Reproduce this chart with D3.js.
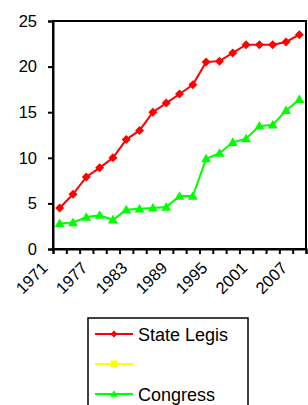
<!DOCTYPE html>
<html>
<head>
<meta charset="utf-8">
<script src="https://cdn.jsdelivr.net/npm/d3@7"></script>
<style>
body{margin:0;background:#fff;}
svg text{font-family:"Liberation Sans",Arial,sans-serif;fill:#000;}
</style>
</head>
<body>
<div id="chart"></div>
<script>
// years on the category axis, one every two years
var years = [1971,1973,1975,1977,1979,1981,1983,1985,1987,1989,1991,1993,1995,1997,1999,2001,2003,2005,2007];
var stateLegis = [4.5,6.0,7.9,8.9,10.0,12.0,13.0,15.0,16.0,17.0,18.0,20.5,20.6,21.5,22.4,22.4,22.4,22.7,23.5];
var blankSeries = [];
var congress = [2.8,2.9,3.5,3.7,3.2,4.3,4.4,4.5,4.6,5.8,5.8,9.9,10.5,11.7,12.1,13.5,13.6,15.2,16.4];
var yTicks = [0,5,10,15,20,25];
var labelYears = [1971,1977,1983,1989,1995,2001,2007];

var series = [
    {name:'State Legis', values:stateLegis, color:'#ff0000', marker:'diamond'},
    {name:'', values:blankSeries, color:'#ffff00', marker:'square'},
    {name:'Congress', values:congress, color:'#00ff00', marker:'triangle'}
];

const width = 308, height = 405;
const plotL = 53, plotR = 306, plotT = 21, plotB = 249;

var svg = d3.select('#chart')
    .append('svg')
    .attr('width',width)
    .attr('height',height);

var x = d3.scaleBand().domain(years).range([plotL,plotR]).padding(0);
var y = d3.scaleLinear().domain([0,25]).range([plotB,plotT]);

// plot border
svg.append('rect')
    .attr('x',plotL).attr('y',plotT)
    .attr('width',plotR-plotL).attr('height',plotB-plotT)
    .attr('fill','none').attr('stroke','#000').attr('stroke-width',2);

// y axis
var yAxis = svg.append('g')
    .attr('transform','translate('+plotL+',0)')
    .call(d3.axisLeft(y).tickValues(yTicks).tickSize(5).tickPadding(11));
yAxis.select('.domain').attr('stroke-width',2);
yAxis.selectAll('.tick line').attr('stroke-width',2);
yAxis.selectAll('text').style('font-size','16.5px');

// x ticks sit on the category borders
var xb = d3.scaleLinear().domain([0,years.length]).range([plotL,plotR]);
var xAxis = svg.append('g')
    .attr('transform','translate(0,'+plotB+')')
    .call(d3.axisBottom(xb).tickValues(d3.range(years.length+1)).tickSize(5).tickFormat(''));
xAxis.select('.domain').attr('stroke-width',2);
xAxis.selectAll('.tick line').attr('stroke-width',2);

// rotated year labels
svg.selectAll('text.year')
    .data(labelYears)
    .enter()
    .append('text')
    .attr('class','year')
    .attr('text-anchor','end')
    .style('font-size','16.5px')
    .attr('transform',function(d){
        return 'translate('+(x(d)+x.bandwidth()/2-11)+','+(plotB+20)+') rotate(-45)';
    })
    .text(function(d){return d;});

var line = d3.line()
    .x(function(d,i){return x(years[i])+x.bandwidth()/2;})
    .y(function(d){return y(d);});

function markerPath(type,s){
    if(type=='diamond') return 'M0,'+(-s)+'L'+s+',0L0,'+s+'L'+(-s)+',0Z';
    if(type=='square') return 'M'+(-s)+','+(-s)+'h'+(2*s)+'v'+(2*s)+'h'+(-2*s)+'Z';
    return 'M0,'+(-s*1.1)+'L'+(s*1.1)+','+(s*0.8)+'L'+(-s*1.1)+','+(s*0.8)+'Z';
}

series.forEach(function(s){
    if(!s.values.length) return;
    svg.append('path')
        .attr('d',line(s.values))
        .attr('fill','none')
        .attr('stroke',s.color)
        .attr('stroke-width',2);
    svg.selectAll(null)
        .data(s.values)
        .enter()
        .append('path')
        .attr('transform',function(d,i){
            return 'translate('+(x(years[i])+x.bandwidth()/2)+','+y(d)+')';
        })
        .attr('d',markerPath(s.marker,4.5))
        .attr('fill',s.color);
});

// legend
var legend = svg.append('g').attr('transform','translate(88,318)');
legend.append('rect')
    .attr('width',160).attr('height',100)
    .attr('fill','#fff').attr('stroke','#000').attr('stroke-width',1.5);
var items = legend.selectAll('g.item')
    .data(series)
    .enter()
    .append('g')
    .attr('class','item')
    .attr('transform',function(d,i){return 'translate(0,'+(16+i*30)+')';});
items.append('line')
    .attr('x1',7).attr('x2',45)
    .attr('stroke',function(d){return d.color;})
    .attr('stroke-width',2);
items.append('path')
    .attr('transform','translate(26,0)')
    .attr('d',function(d){return markerPath(d.marker,3.5);})
    .attr('fill',function(d){return d.color;});
items.append('text')
    .attr('x',50).attr('y',6.5)
    .style('font-size','18px')
    .text(function(d){return d.name;});
</script>
</body>
</html>
